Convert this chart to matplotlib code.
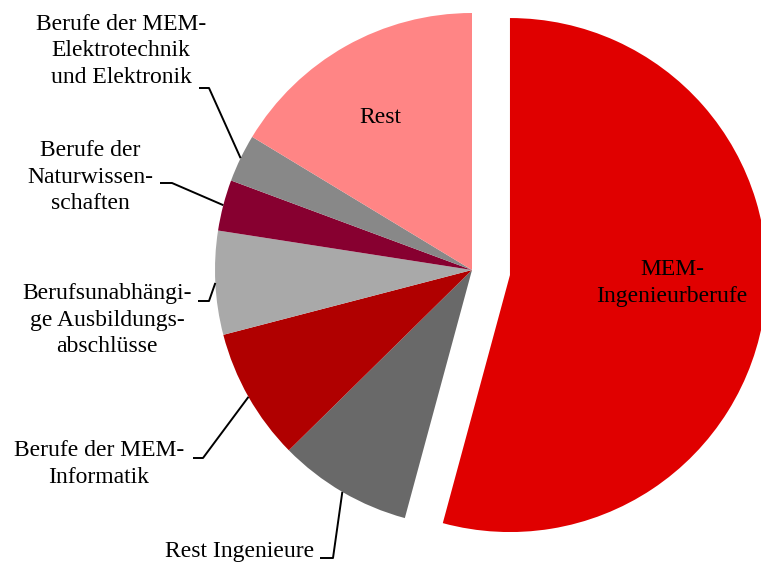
import numpy as np
import matplotlib.pyplot as plt

# Anteile (in %) im Uhrzeigersinn ab 12 Uhr
kategorien = [
    "MEM-\nIngenieurberufe",
    "Rest Ingenieure",
    "Berufe der MEM-\nInformatik",
    "Berufsunabhängi-\nge Ausbildungs-\nabschlüsse",
    "Berufe der\nNaturwissen-\nschaften",
    "Berufe der MEM-\nElektrotechnik\nund Elektronik",
    "Rest",
]
anteile = [54.1, 8.4, 8.3, 6.5, 3.2, 3.0, 16.3]
farben = ["#E00000", "#696969", "#B00000", "#A9A9A9", "#870030", "#888888", "#FF8585"]
explode = [0.149, 0, 0, 0, 0, 0, 0]

W, H = 761, 567
CX, CY, R = 472, 270, 257  # Pixel-Lage des Kreises


def px(x, y):
    # Pixel (oben links) -> Datenkoordinaten
    return (x - CX) / R, (CY - y) / R


plt.rcParams['font.family'] = ['Liberation Serif', 'DejaVu Serif']
fig = plt.figure(figsize=(W / 100, H / 100), dpi=100)
ax = fig.add_axes([0, 0, 1, 1])

wedges, _ = ax.pie(
    anteile,
    colors=farben,
    explode=explode,
    startangle=90,
    counterclock=False,
    radius=1,
    wedgeprops=dict(linewidth=0),
)
ax.set_xlim(-CX / R, (W - CX) / R)
ax.set_ylim(-(H - CY) / R, CY / R)
ax.set_aspect('equal')
ax.axis('off')

fs = 17
ls = 1.32

# Beschriftungen innen
ax.text(*px(672, 283), kategorien[0], ha='center', va='center', fontsize=fs, linespacing=ls)
ax.text(*px(380, 117), kategorien[6], ha='center', va='center', fontsize=fs)

# Beschriftungen aussen: (Index, Textmitte, Linienanfang, Knick)
aussen = [
    (5, (121, 51), (199, 88), (209, 88)),
    (4, (90, 177), (160, 183), (172, 183)),
    (3, (107, 320), (198, 301), (209, 301)),
    (2, (99, 464), (193, 458), (203, 458)),
    (1, (240, 552), (320, 558), (333, 558)),
]
for i, tpos, start, knick in aussen:
    ax.text(*px(*tpos), kategorien[i], ha='center', va='center', fontsize=fs,
            linespacing=ls)
    w = wedges[i]
    t = np.deg2rad((w.theta1 + w.theta2) / 2)
    ex = w.center[0] + w.r * np.cos(t)
    ey = w.center[1] + w.r * np.sin(t)
    x0, y0 = px(*start)
    x1, y1 = px(*knick)
    ax.plot([x0, x1, ex], [y0, y1, ey], color='black', lw=1.4, solid_capstyle='butt')

fig.savefig("out.png", dpi=100)
